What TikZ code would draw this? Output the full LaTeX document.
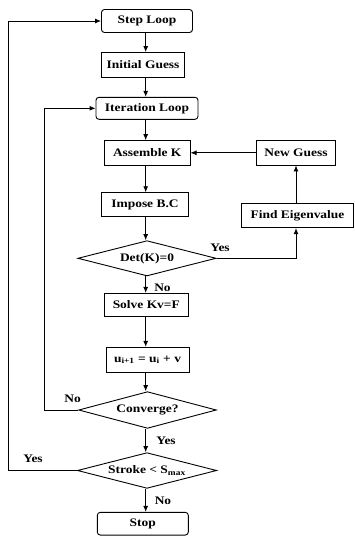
\documentclass[tikz,border=0pt]{standalone}
\usepackage{fontspec}
\setmainfont{Liberation Serif}
\usetikzlibrary{shapes.geometric,arrows.meta}
\newcommand\fct[1]{\scalebox{1.17}[1]{#1}}
\begin{document}
\begin{tikzpicture}[x=1pt,y=-1pt,
  every node/.style={font=\fontsize{11.5}{13}\selectfont\bfseries},
  fbox/.style={draw,line width=0.9pt,inner sep=0pt,rectangle},
  rbox/.style={fbox,rounded corners=3pt},
  dia/.style={draw,line width=0.9pt,diamond,inner sep=0pt,aspect=3.9},
  arr/.style={line width=0.9pt,-{Latex[length=6pt,width=5pt]}},
  ln/.style={line width=0.9pt},
  lbl/.style={inner sep=0pt}]
\useasboundingbox (0,0) rectangle (354,536);
\coordinate (col) at (145.7,0);
\coordinate (ox) at (8.3,0);
\coordinate (ix) at (44.3,0);
% nodes
\node[rbox,minimum width=91pt,minimum height=23pt] (step) at (147,21) {\fct{Step Loop}};
\node[fbox,minimum width=82.7pt,minimum height=25pt] (init) at (143,65) {\fct{Initial Guess}};
\node[rbox,minimum width=102pt,minimum height=22pt] (iter) at (147,108.3) {\fct{Iteration Loop}};
\node[fbox,minimum width=85.7pt,minimum height=24.3pt] (asm) at (147.2,152.8) {\fct{Assemble K}};
\node[fbox,minimum width=79pt,minimum height=24.3pt] (newg) at (296,152.8) {\fct{New Guess}};
\node[fbox,minimum width=86.7pt,minimum height=24pt] (imp) at (145,204.7) {\fct{Impose B.C}};
\node[fbox,minimum width=112pt,minimum height=24.3pt] (find) at (297.5,215.5) {\fct{Find Eigenvalue}};
\node[dia,minimum width=138.3pt,minimum height=35.3pt] (det) at (147,258.3) {\fct{Det(K)=0}};
\node[fbox,minimum width=84pt,minimum height=23.3pt] (solve) at (146.3,305) {\fct{Solve Kv=F}};
\node[fbox,minimum width=83pt,minimum height=25pt] (upd) at (147.5,359.8) {\fct{u\textsubscript{i+1} = u\textsubscript{i} + v}};
\node[dia,minimum width=137.7pt,minimum height=36.7pt] (conv) at (147.5,410) {\fct{Converge?}};
\node[dia,minimum width=139.3pt,minimum height=35.7pt] (stroke) at (147,470.5) {\fct{Stroke < S\textsubscript{max}}};
\node[rbox,minimum width=91pt,minimum height=22.7pt] (stop) at (142.8,523.7) {\fct{Stop}};
% labels
\node[lbl] (lyes1) at (220,247.8) {\fct{Yes}};
\node[lbl] (lno1) at (162.5,288) {\fct{No}};
\node[lbl] (lno2) at (72.7,399) {\fct{No}};
\node[lbl] (lyes2) at (166,441) {\fct{Yes}};
\node[lbl] (lyes3) at (33,459) {\fct{Yes}};
\node[lbl] (lno3) at (163,501) {\fct{No}};
% main column
\draw[arr] (step.south -| col) -- (init.north -| col);
\draw[arr] (init.south -| col) -- (iter.north -| col);
\draw[arr] (iter.south -| col) -- (asm.north -| col);
\draw[arr] (asm.south -| col) -- (imp.north -| col);
\draw[arr] (imp.south -| col) -- (det.north -| col);
\draw[arr] (det.south -| col) -- (solve.north -| col);
\draw[arr] (solve.south -| col) -- (upd.north -| col);
\draw[arr] (upd.south -| col) -- (conv.north -| col);
\draw[arr] (conv.south -| col) -- (stroke.north -| col);
\draw[arr] (stroke.south -| col) -- (stop.north -| col);
% side branch
\draw[arr] (det.east) -- (det.east -| newg) -- (find.south -| newg);
\draw[arr] (find.north -| newg) -- (newg.south);
\draw[arr] (newg.west) -- (asm.east);
% loops
\draw[arr] (conv.west) -- (conv.west -| ix) -- (iter.west -| ix) -- (iter.west);
\draw[arr] (stroke.west) -- (stroke.west -| ox) -- (step.west -| ox) -- (step.west);
\end{tikzpicture}
\end{document}
